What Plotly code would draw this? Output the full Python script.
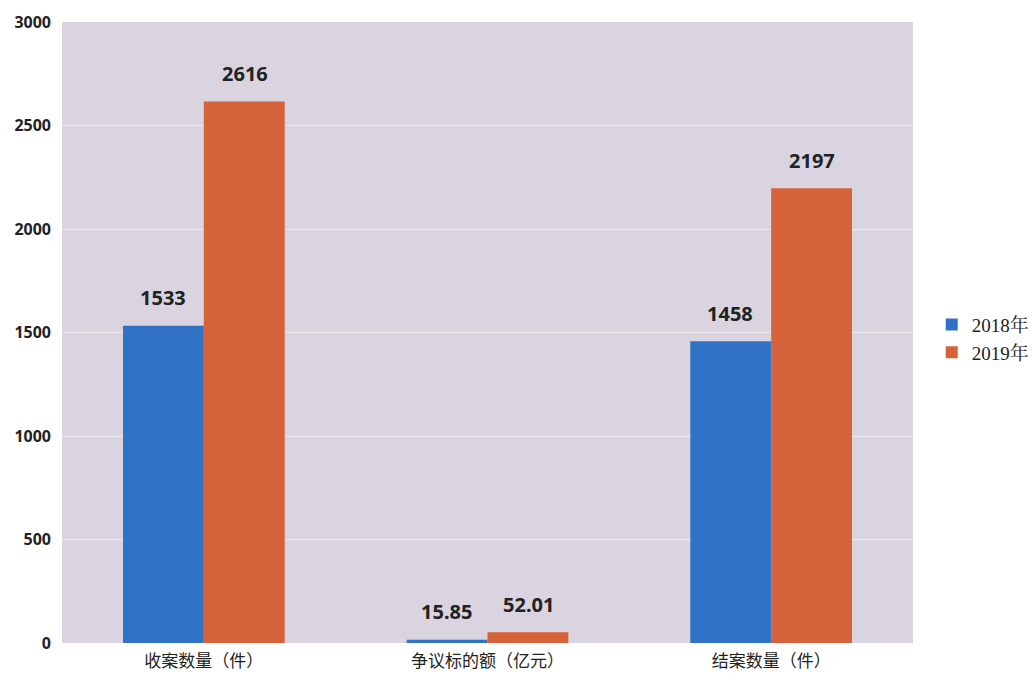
import plotly.graph_objects as go

categories = ["收案数量（件）", "争议标的额（亿元）", "结案数量（件）"]
series_names = ["2018年", "2019年"]
values_2018 = [1533, 15.85, 1458]
values_2019 = [2616, 52.01, 2197]
labels_2018 = ["1533", "15.85", "1458"]
labels_2019 = ["2616", "52.01", "2197"]
y_ticks = [0, 500, 1000, 1500, 2000, 2500, 3000]

colors = ["#2f72c6", "#d6623a"]

fig = go.Figure()
for name, vals, col in zip(series_names, [values_2018, values_2019], colors):
    fig.add_trace(go.Bar(
        x=categories, y=vals, name=name, marker=dict(color=col, line=dict(width=0)),
    ))

# data labels above bars
for vals, labs, shift in [(values_2018, labels_2018, -41), (values_2019, labels_2019, 41)]:
    for c, v, t in zip(categories, vals, labs):
        fig.add_annotation(
            x=c, y=v, text=t, showarrow=False, xshift=shift, yshift=28,
            font=dict(family="Noto Sans, Liberation Sans, sans-serif", size=20,
                      color="#222222", weight="bold"),
        )

fig.update_layout(
    width=1028, height=673,
    margin=dict(l=54, r=123, t=14, b=38, autoexpand=False),
    paper_bgcolor="white",
    plot_bgcolor="#d9d4df",
    barmode="group",
    bargap=0.43,
    bargroupgap=0,
    showlegend=True,
    font=dict(family="Noto Sans CJK SC, sans-serif", color="#222222"),
    legend=dict(
        x=1.022, y=0.49, xanchor="left", yanchor="middle",
        font=dict(family="Liberation Serif, Noto Serif CJK SC, serif", size=19, color="#222222"),
        itemwidth=30, tracegroupgap=6,
    ),
    xaxis=dict(
        tickfont=dict(family="Noto Sans CJK SC, sans-serif", size=17, color="#222222"),
        showline=False, ticks="", automargin=False, ticklabelstandoff=6,
    ),
    yaxis=dict(
        range=[0, 3000], tickvals=y_ticks,
        tickfont=dict(family="Noto Sans, Liberation Sans, sans-serif", size=16,
                      color="#222222", weight="bold"),
        showgrid=True, gridcolor="#ecebf0", gridwidth=1,
        zeroline=False, ticks="", ticklabelstandoff=10, automargin=False,
    ),
)

fig.write_html("out.html")
